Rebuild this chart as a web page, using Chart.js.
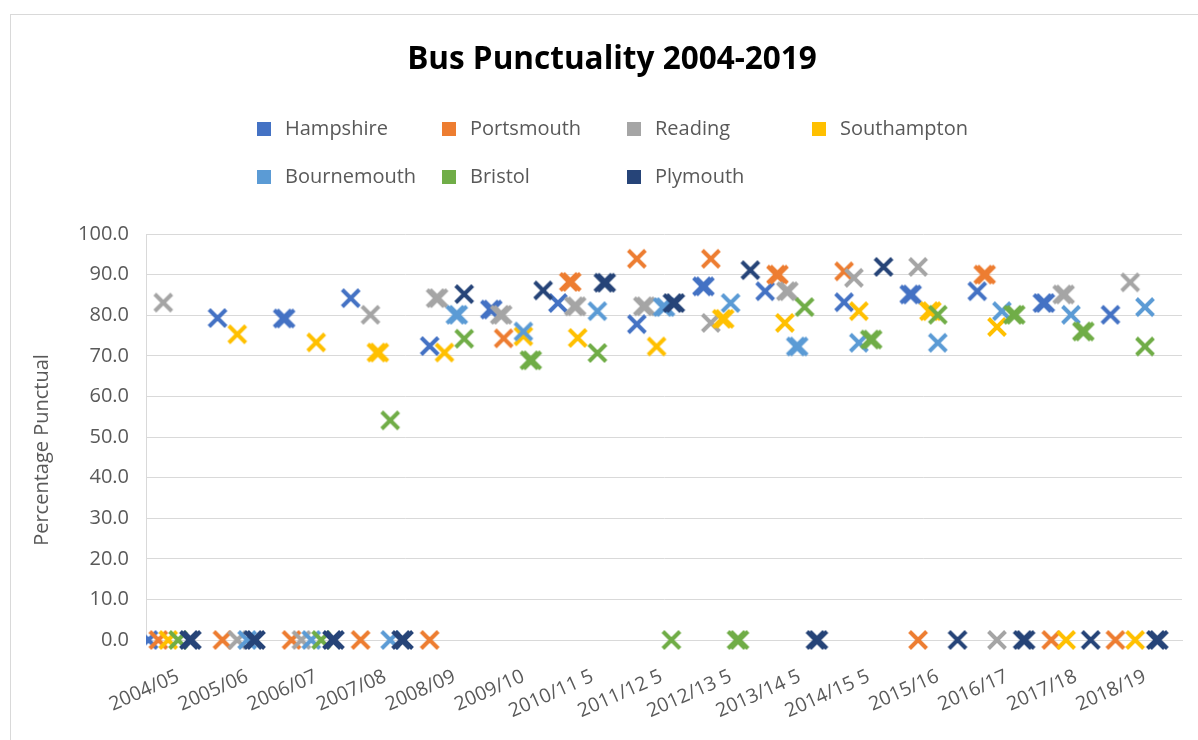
<!DOCTYPE html>
<html><head><meta charset="utf-8">
<script src="https://cdn.jsdelivr.net/npm/chart.js@4/dist/chart.umd.min.js"></script>
<style>html,body{margin:0;padding:0;background:#fff}#wrap{width:1198px;height:740px;position:relative}</style>
</head><body><div id="wrap"><canvas id="c" width="1198" height="740"></canvas></div>
<script>
// ---------- data ----------
const TITLE = 'Bus Punctuality 2004-2019';
const Y_TITLE = 'Percentage Punctual';
const SERIES_NAMES = ['Hampshire','Portsmouth','Reading','Southampton','Bournemouth','Bristol','Plymouth'];
const YEAR_LABELS = ['2004/05','2005/06','2006/07','2007/08','2008/09','2009/10','2010/11 5','2011/12 5','2012/13 5','2013/14 5','2014/15 5','2015/16','2016/17','2017/18','2018/19'];
const ROWS_PER_YEAR = 14;   // table rows per year block
const LABEL_ROW = 6;        // row inside each block carrying the year text
const Y_TICKS = [0,10,20,30,40,50,60,70,80,90,100];

// [table row, value]
const hampshire = [[0,0],[14,79.3],[27,79.2],[28,79.2],[41,84.2],[57,72.4],[69,81.4],[70,81.4],[83,83],[99,77.8],[112,87.1],[113,87.1],[125,85.9],[141,83.2],[154,85.1],[155,85.1],[168,85.9],[181,83],[182,83],[195,80.1]];
const portsmouth = [[2,0],[15,0],[29,0],[43,0],[57,0],[72,74.3],[85,88.2],[86,88.2],[99,93.9],[114,93.9],[127,90],[128,90],[141,90.8],[156,0],[169,90],[170,90],[183,0],[196,0]];
const reading = [[3,83.1],[18,0],[31,0],[45,80.1],[58,84.2],[59,84.2],[71,80.1],[72,80.1],[86,82.2],[87,82.2],[100,82.2],[101,82.2],[114,78.1],[129,85.9],[130,85.9],[143,89.2],[156,91.9],[172,0],[185,85.1],[186,85.1],[199,88.1]];
const southampton = [[4,0],[18,75.3],[34,73.3],[46,70.8],[47,70.8],[60,70.8],[76,74.8],[87,74.4],[103,72.3],[116,79.1],[117,79.1],[129,78.1],[144,81],[158,81],[159,81],[172,77.1],[186,0],[200,0]];
const bournemouth = [[20,0],[33,0],[49,0],[62,80.1],[63,80.1],[76,76],[91,81],[104,82],[105,82],[118,83],[131,72.3],[132,72.3],[144,73.2],[160,73.2],[173,81],[187,80.1],[202,82]];
const bristol = [[6,0],[35,0],[49,54.1],[64,74.2],[77,68.9],[78,68.9],[91,70.7],[106,0],[119,0],[120,0],[133,82],[146,74],[147,74],[160,80.1],[175,80.1],[176,80.1],[189,76],[190,76],[202,72.3]];
const plymouth = [[8,0],[9,0],[21,0],[22,0],[37,0],[38,0],[51,0],[52,0],[64,85.2],[80,86.1],[92,88],[93,88],[106,83],[107,83],[122,91.1],[135,0],[136,0],[149,91.9],[164,0],[177,0],[178,0],[191,0],[204,0],[205,0]];

const SERIES_DATA = [hampshire, portsmouth, reading, southampton, bournemouth, bristol, plymouth];
const COLORS = ['#4472C4','#ED7D31','#A5A5A5','#FFC000','#5B9BD5','#70AD47','#264478'];

// ---------- build ----------
const NROWS = YEAR_LABELS.length * ROWS_PER_YEAR;
const categories = Array.from({length: NROWS}, (_, i) => (i % ROWS_PER_YEAR === LABEL_ROW) ? YEAR_LABELS[Math.floor(i / ROWS_PER_YEAR)] : '');
function toColumn(pairs) {
  const col = new Array(NROWS).fill(null);
  pairs.forEach(([r, v]) => { col[r] = v; });
  return col;
}
const FONT = "'Open Sans', 'DejaVu Sans', sans-serif";
const GREY_TEXT = '#595959';
const GRID = '#d9d9d9';
const MARK_R = 12, MARK_W = 4;

// X marker images; neighbouring equal values are drawn pulled 1px together (Excel-like overlap)
function makeX(color, shift) {
  const size = 36, c = size / 2, a = MARK_R * Math.SQRT1_2;
  const cv = document.createElement('canvas');
  cv.width = size; cv.height = size;
  const g = cv.getContext('2d');
  g.strokeStyle = color; g.lineWidth = MARK_W;
  g.beginPath();
  g.moveTo(c + shift - a, c - a); g.lineTo(c + shift + a, c + a);
  g.moveTo(c + shift + a, c - a); g.lineTo(c + shift - a, c + a);
  g.stroke();
  return cv;
}
const MARKERS = COLORS.map(col => ({ mid: makeX(col, 0), left: makeX(col, 1), right: makeX(col, -1) }));

const datasets = SERIES_NAMES.map((name, k) => ({
  label: name,
  data: toColumn(SERIES_DATA[k]),
  showLine: false,
  pointStyle: (ctx) => {
    const d = ctx.dataset.data, i = ctx.dataIndex, v = d[i];
    if (v !== null && d[i + 1] === v) return MARKERS[k].left;
    if (v !== null && d[i - 1] === v) return MARKERS[k].right;
    return MARKERS[k].mid;
  },
  pointRadius: MARK_R,
  pointHoverRadius: MARK_R,
  pointBorderWidth: MARK_W,
  borderColor: COLORS[k],
  backgroundColor: COLORS[k],
  pointBorderColor: COLORS[k],
  pointBackgroundColor: COLORS[k],
  order: SERIES_NAMES.length - k,
  clip: {left: 0, right: 12, top: 12, bottom: 12}
}));

const chromePlugin = {
  id: 'chrome',
  beforeDraw(chart) {
    const ctx = chart.ctx;
    ctx.save();
    ctx.fillStyle = '#fff';
    ctx.fillRect(0, 0, chart.width, chart.height);
    ctx.strokeStyle = GRID;
    ctx.lineWidth = 1;
    ctx.strokeRect(10.5, 14.5, 1300, 800);
    ctx.restore();
  },
  afterDraw(chart) {
    const ctx = chart.ctx;
    ctx.save();
    ctx.fillStyle = '#000';
    ctx.font = "bold 31.5px " + FONT;
    ctx.textAlign = 'center';
    ctx.textBaseline = 'middle';
    ctx.fillText(TITLE, 612, 60);
    ctx.font = "20px " + FONT;
    ctx.textAlign = 'left';
    SERIES_NAMES.forEach((name, i) => {
      const col = i % 4, row = Math.floor(i / 4);
      const sx = 257 + 185 * col, sy = 129 + 48 * row;
      ctx.fillStyle = COLORS[i];
      ctx.fillRect(sx, sy - 7, 14, 14);
      ctx.fillStyle = GREY_TEXT;
      ctx.fillText(name, sx + 28, sy);
    });
    // y-axis title
    ctx.translate(42, 450);
    ctx.rotate(-Math.PI / 2);
    ctx.textAlign = 'center';
    ctx.fillStyle = GREY_TEXT;
    ctx.fillText(Y_TITLE, 0, 0);
    ctx.restore();
  }
};

new Chart(document.getElementById('c'), {
  type: 'line',
  data: { labels: categories, datasets },
  plugins: [chromePlugin],
  options: {
    responsive: false,
    animation: false,
    devicePixelRatio: 1,
    layout: { padding: { top: 234, right: 3, left: 0, bottom: 0 } },
    plugins: { legend: { display: false }, title: { display: false }, tooltip: { enabled: false } },
    scales: {
      x: {
        type: 'category',
        offset: true,
        grid: { display: false, drawTicks: false },
        border: { display: true, color: GRID, width: 1 },
        ticks: { autoSkip: false, minRotation: 24, maxRotation: 24, padding: 25, color: GREY_TEXT, font: { family: FONT, size: 19.5 } },
        afterFit(s) { s.height = 100; s.paddingLeft = 0; s.paddingRight = 0; }
      },
      y: {
        min: 0, max: 100,
        afterBuildTicks(s) { s.ticks = Y_TICKS.map(v => ({ value: v })); },
        ticks: { padding: 17, color: GREY_TEXT, font: { family: FONT, size: 20 }, callback: v => Number(v).toFixed(1) },
        grid: { color: GRID, lineWidth: 1, drawTicks: false },
        border: { display: true, color: GRID, width: 1 },
        afterFit(s) { s.width = 146; }
      }
    }
  }
});
</script></body></html>
